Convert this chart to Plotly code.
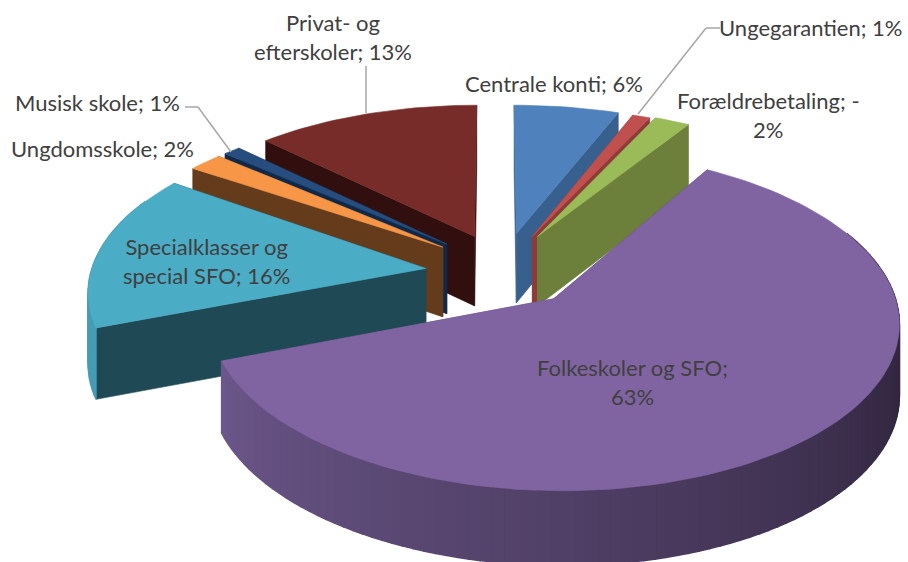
import numpy as np
import plotly.graph_objects as go

categories = ["Centrale konti", "Ungegarantien", "Forældrebetaling", "Folkeskoler og SFO",
              "Specialklasser og special SFO", "Ungdomsskole", "Musisk skole", "Privat- og efterskoler"]
values = [6, 1, -2, 63, 16, 2, 1, 13]

# slice styling
explode_x = [0.067, 0.117, 0.133, 0.175, -0.211, -0.162, -0.150, -0.064]
explode_y = [0.197, 0.177, 0.177, -0.228, -0.035, 0.105, 0.125, 0.177]
radius_x = [1.02, 1.02, 1.03, 1.02, 1.02, 1.02, 1.01, 1.01]
radius_y = [0.98, 0.98, 0.98, 1.035, 1.04, 0.99, 0.99, 1.00]
top_colors = ["#4f81bd", "#c0504d", "#9bbb59", "#8064a2", "#4bacc6", "#f79646", "#264d7d", "#772c2a"]
side_colors = ["#38608f", "#8e3a38", "#6c803c", "#5a4672", "#1f4a55", "#653c1b", "#10294a", "#300f0e"]
outer_start = [(0x4f, 0x81, 0xbd)] * 3 + [(0x6c, 0x57, 0x8a), (0x45, 0x9c, 0xb5), (0xa0, 0x60, 0x30), (0x20, 0x40, 0x60), (0x50, 0x20, 0x20)]
outer_end = [(0x30, 0x50, 0x80)] * 3 + [(0x32, 0x26, 0x3f), (0x45, 0x9c, 0xb5), (0xa0, 0x60, 0x30), (0x20, 0x40, 0x60), (0x50, 0x20, 0x20)]
draw_order = [7, 6, 5, 4, 0, 1, 2, 3]

# labels: text, centre x, centre y
label_text = ["Centrale konti; 6%", "Ungegarantien; 1%", "Forældrebetaling; -<br>2%", "Folkeskoler og SFO;<br>63%",
              "Specialklasser og<br>special SFO; 16%", "Ungdomsskole; 2%", "Musisk skole; 1%", "Privat- og<br>efterskoler; 13%"]
label_x = [554, 811, 768, 632, 206, 102, 97, 333]
label_y = [83, 27, 115, 382, 261, 148, 102, 37]
leaders = [[(720, 28), (706, 28), (638, 114)], [(185, 107), (198, 107), (231, 152)], [(366, 66), (366, 113)]]

# view of the pie plane
CX, CY, RX, RY, G, DEPTH = 495, 263, 326, 153, 0.12, 70


def project(x, y, z=0.0):
    w = 1 + G * y
    return CX + RX * x / w, CY - RY * y / w + DEPTH * z / w ** 0.4


def poly(fig, pts, color, lw=0.6):
    xs = [p[0] for p in pts] + [pts[0][0]]
    ys = [p[1] for p in pts] + [pts[0][1]]
    fig.add_trace(go.Scatter(x=xs, y=ys, mode="lines", fill="toself", fillcolor=color,
                             line=dict(color=color, width=lw), hoverinfo="skip", showlegend=False))


sizes = np.abs(np.array(values, dtype=float))
edges = np.concatenate([[0], np.cumsum(sizes)]) / sizes.sum() * 2 * np.pi

fig = go.Figure()
for i in draw_order:
    a0, a1 = edges[i], edges[i + 1]
    ex, ey = explode_x[i], explode_y[i]
    n = max(4, int((a1 - a0) / 0.03))
    ang = np.linspace(a0, a1, n + 1)
    rim = [(ex + radius_x[i] * np.sin(a), ey + radius_y[i] * np.cos(a)) for a in ang]
    # radial faces
    for (x, y) in (rim[0], rim[-1]):
        poly(fig, [project(ex, ey), project(x, y), project(x, y, 1), project(ex, ey, 1)], side_colors[i])
    # outer wall, shaded strip by strip from the rim angle
    for k in range(n):
        t = min(1.0, 1.5 * (1 - k / max(n - 1, 1)))
        rgb = [int(s + (e - s) * t) for s, e in zip(outer_start[i], outer_end[i])]
        p, q = rim[k], rim[k + 1]
        if (p[1] - ey) < 0.45:
            poly(fig, [project(*p), project(*q), project(*q, 1), project(*p, 1)], "rgb(%d,%d,%d)" % tuple(rgb), 1.5)
    poly(fig, [project(ex, ey)] + [project(*p) for p in rim], top_colors[i])

shapes = []
for path in leaders:
    for (x0, y0), (x1, y1) in zip(path[:-1], path[1:]):
        shapes.append(dict(type="line", x0=x0, y0=y0, x1=x1, y1=y1, xref="x", yref="y",
                           line=dict(color="#a6a6a6", width=1.5)))

annotations = [dict(x=x, y=y, text=t, showarrow=False, xref="x", yref="y", align="center",
                    font=dict(family="Lato, Carlito, sans-serif", size=22, color="#404040"))
               for t, x, y in zip(label_text, label_x, label_y)]

fig.update_layout(width=908, height=562, margin=dict(l=0, r=0, t=0, b=0), autosize=False,
                  paper_bgcolor="white", plot_bgcolor="white", showlegend=False,
                  shapes=shapes, annotations=annotations,
                  xaxis=dict(range=[0, 908], visible=False, fixedrange=True),
                  yaxis=dict(range=[562, 0], visible=False, fixedrange=True))
fig.write_html("out.html", config=dict(displayModeBar=False),
               post_script="document.body.style.margin='0';document.documentElement.style.overflow='hidden';")
